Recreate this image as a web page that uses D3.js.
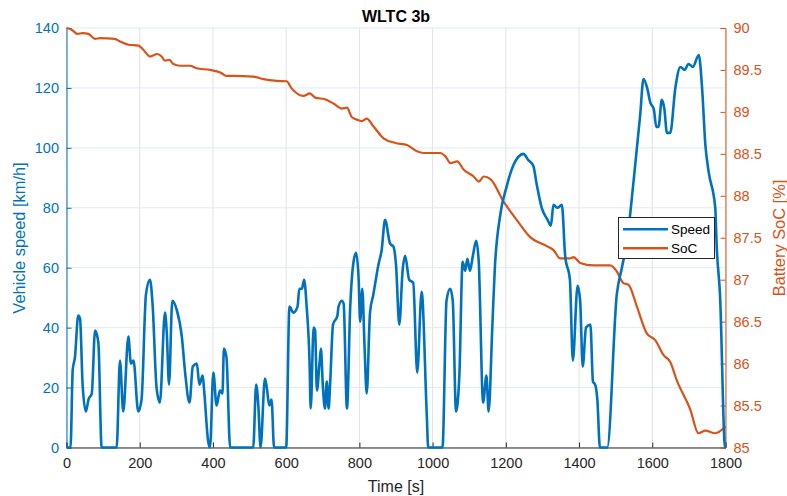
<!DOCTYPE html>
<html><head><meta charset="utf-8">
<script src="https://cdn.jsdelivr.net/npm/d3@7"></script>
<style>body{margin:0;background:#fff}svg{display:block}text{font-family:"Liberation Sans",Arial,Helvetica,sans-serif}</style>
</head><body><div id="chart"></div>
<script>
const speedTime = [0,11,17,23,32,37,44,53,60,69,78,87,96,137,146,155,169,176,183,196,205,217,228,235,246,255,269,274,280,289,301,315,324,336,345,356,363,372,376,387,392,401,410,419,426,430,437,447,510,518,524,530,542,547,554,560,567,600,609,620,631,636,643,649,656,664,667,675,679,684,691,695,700,706,711,716,720,728,740,743,752,757,766,775,784,791,798,802,808,814,820,829,838,852,861,870,884,893,900,909,918,925,936,947,958,970,984,988,1027,1038,1048,1055,1064,1073,1082,1089,1095,1102,1110,1119,1126,1138,1147,1153,1163,1170,1184,1202,1220,1248,1261,1275,1284,1298,1314,1323,1330,1341,1353,1362,1375,1383,1396,1403,1410,1419,1431,1438,1444,1450,1457,1477,1503,1517,1531,1549,1567,1576,1586,1595,1604,1611,1617,1626,1633,1640,1649,1663,1677,1688,1699,1711,1727,1736,1745,1754,1772,1776,1785,1799,1800];
const speedValues = [0,0,26,30,44,43,21,12,16,18,39,35,0,0,29,12,37,28,29,12,16,51,56,48,20,15,45,38,21,49,46,37,25,15,27,28,21,24,19,2,0,25,14,19,18,33,30,0,0,21,14,0,23,20,14,16,0,0,47,45,47,53,53,56,47,28,13,40,39,19,28,33,21,13,22,13,21,41,44,47,49,48,13,47,62,65,56,42,53,34,18,45,51,61,66,76,68,67,61,41,59,64,56,55,25,52,11,0,0,49,53,49,12,24,62,59,63,59,64,69,62,15,24,12,40,60,77,87,94,98,96,94,88,80,76,74,81,80,81,64,56,29,54,49,27,40,41,22,21,16,0,0,51,60,69,89,111,123,120,115,113,107,107,116,113,105,105,120,127,126,128,127,131,120,101,92,80,67,51,0,0];
const socTime = [0,14,30,44,60,78,92,132,146,169,197,210,228,248,260,269,281,292,310,337,355,392,420,436,456,511,538,574,601,615,647,665,679,706,729,752,766,779,798,807,820,838,866,898,930,957,976,1021,1035,1049,1067,1085,1112,1126,1140,1158,1194,1230,1266,1312,1331,1348,1375,1385,1403,1439,1485,1503,1521,1535,1558,1585,1608,1631,1649,1667,1704,1726,1745,1772,1800];
const socValues = [90,89.98,89.93,89.94,89.93,89.87,89.88,89.87,89.84,89.80,89.79,89.74,89.66,89.69,89.66,89.61,89.62,89.57,89.55,89.55,89.52,89.50,89.47,89.43,89.43,89.42,89.39,89.37,89.365,89.28,89.19,89.22,89.17,89.15,89.10,89.04,89.05,88.94,88.90,88.89,88.92,88.83,88.685,88.63,88.605,88.53,88.51,88.51,88.47,88.39,88.41,88.31,88.23,88.17,88.23,88.20,87.93,87.71,87.51,87.40,87.35,87.255,87.255,87.27,87.20,87.17,87.17,87.10,86.96,86.94,86.68,86.36,86.28,86.10,86.02,85.80,85.45,85.17,85.20,85.17,85.25];
const xTicks = [0,200,400,600,800,1000,1200,1400,1600,1800];
const leftTicks = [0,20,40,60,80,100,120,140];
const rightTicks = [85,85.5,86,86.5,87,87.5,88,88.5,89,89.5,90];
const seriesNames = ["Speed","SoC"];
const titleText = "WLTC 3b";

const W = 787, H = 496;
const L = 66.5, R = 725.5, T = 28, B = 447.5;
const blue = "#0072BD", orange = "#D95319";

const svg = d3.select("#chart").append("svg").attr("width", W).attr("height", H);
const x = d3.scaleLinear().domain([0,1800]).range([L,R]);
const yL = d3.scaleLinear().domain([0,140]).range([B,T]);
const yR = d3.scaleLinear().domain([85,90]).range([B,T]);

// grid
const g = svg.append("g");
g.selectAll("line.vg").data(xTicks).join("line")
  .attr("x1", d=>x(d)).attr("x2", d=>x(d)).attr("y1", T).attr("y2", B)
  .attr("stroke", "#e2e2e2").attr("stroke-width", 1);
g.selectAll("line.hg").data(leftTicks).join("line")
  .attr("x1", L).attr("x2", R).attr("y1", d=>yL(d)).attr("y2", d=>yL(d))
  .attr("stroke", "#e0eaf4").attr("stroke-width", 1);

// axes
const xAxis = d3.axisBottom(x).tickValues(xTicks).tickSize(-5).tickPadding(10.5).tickFormat(d3.format("d"));
const ax = svg.append("g").attr("transform", `translate(0,${B})`).call(xAxis);
ax.select(".domain").attr("stroke", "#262626").attr("stroke-width", 1);
ax.selectAll(".tick line").attr("stroke", "#262626");
ax.selectAll("text").attr("fill", "#262626").style("font-size", "14.5px");

const yAxisL = d3.axisLeft(yL).tickValues(leftTicks).tickSize(-5).tickPadding(7.5);
const al = svg.append("g").attr("transform", `translate(${L},0)`).call(yAxisL);
al.select(".domain").attr("stroke", blue);
al.selectAll(".tick line").attr("stroke", blue);
al.selectAll("text").attr("fill", blue).style("font-size", "14.5px");

const yAxisR = d3.axisRight(yR).tickValues(rightTicks).tickSize(-5).tickPadding(8).tickFormat(d=>d3.format("")(d));
const ar = svg.append("g").attr("transform", `translate(${R},0)`).call(yAxisR);
ar.select(".domain").attr("stroke", orange);
ar.selectAll(".tick line").attr("stroke", orange);
ar.selectAll("text").attr("fill", orange).style("font-size", "14.5px");

// lines
const speedData = speedTime.map((t,i)=>[t, speedValues[i]]);
const socData = socTime.map((t,i)=>[t, socValues[i]]);
svg.append("path").datum(socData)
  .attr("d", d3.line().curve(d3.curveMonotoneX).x(d=>x(d[0])).y(d=>yR(d[1])))
  .attr("fill","none").attr("stroke", orange).attr("stroke-width", 2.2).attr("stroke-linejoin","round");
svg.append("path").datum(speedData)
  .attr("d", d3.line().curve(d3.curveMonotoneX).x(d=>x(d[0])).y(d=>yL(d[1])))
  .attr("fill","none").attr("stroke", blue).attr("stroke-width", 2.6).attr("stroke-linejoin","round");

// title and labels
svg.append("text").attr("x", 396).attr("y", 22).attr("text-anchor","middle")
  .style("font-size","16px").style("font-weight","bold").attr("fill","#000").text(titleText);
svg.append("text").attr("x", 396).attr("y", 492).attr("text-anchor","middle")
  .style("font-size","16px").attr("fill","#262626").text("Time [s]");
svg.append("text").attr("transform", "translate(25,238) rotate(-90)").attr("text-anchor","middle")
  .style("font-size","16.4px").attr("fill", blue).text("Vehicle speed [km/h]");
svg.append("text").attr("transform", "translate(785,238) rotate(-90)").attr("text-anchor","middle")
  .style("font-size","16.4px").attr("fill", orange).text("Battery SoC [%]");

// legend
const lg = svg.append("g");
lg.append("rect").attr("x", 618.5).attr("y", 217.5).attr("width", 96).attr("height", 41)
  .attr("fill","#fff").attr("stroke","#262626").attr("stroke-width",1);
[blue, orange].forEach((c,i)=>{
  const yy = 229.3 + i*19;
  lg.append("line").attr("x1", 623).attr("x2", 668).attr("y1", yy).attr("y2", yy)
    .attr("stroke", c).attr("stroke-width", 2.6);
  lg.append("text").attr("x", 671).attr("y", yy+5).style("font-size","13.5px").attr("fill","#000").text(seriesNames[i]);
});
</script></body></html>
